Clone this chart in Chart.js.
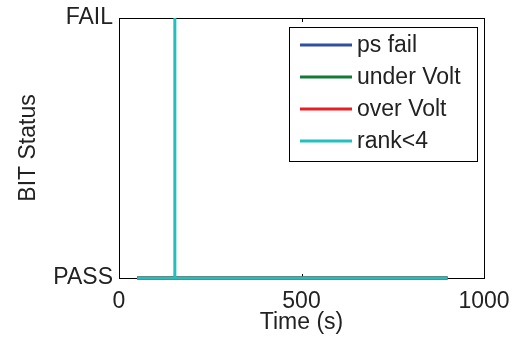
<!DOCTYPE html>
<html>
<head>
<meta charset="utf-8">
<script src="https://cdn.jsdelivr.net/npm/chart.js@4/dist/chart.umd.min.js"></script>
<style>
html,body{margin:0;padding:0;background:#fff;}
#wrap{width:514px;height:345px;position:relative;}
</style>
</head>
<body>
<div id="wrap"><canvas id="c" width="514" height="345"></canvas></div>
<script>
// ---- data ----
const seriesNames = ['ps fail', 'under Volt', 'over Volt', 'rank<4'];
const times      = [50, 153, 153, 153, 900];
const psFail     = [0, 0, 0, 0, 0];
const underVolt  = [0, 0, 0, 0, 0];
const overVolt   = [0, 0, 0, 0, 0];
const rankLt4    = [0, 0, 1, 0, 0];
const xTicks     = [0, 500, 1000];
const yTickLabels = ['PASS', 'FAIL'];
const colors = ['#2f4fa2', '#127a3b', '#ec1c24', '#22bfbf'];

const FONT = 'Arial, "Liberation Sans", Helvetica, sans-serif';
const FS = 23;

function pts(vals){ return times.map((t,i)=>({x:t,y:vals[i]})); }
const allVals = [psFail, underVolt, overVolt, rankLt4];

const boxPlugin = {
  id:'box',
  beforeDatasetsDraw(chart){
    const {ctx, chartArea:a, scales:{x,y}} = chart;
    ctx.save();
    ctx.strokeStyle='#000'; ctx.lineWidth=1;
    ctx.strokeRect(a.left+0.5, a.top+0.5, a.right-a.left, a.bottom-a.top);
    ctx.beginPath();
    const tl = 4;
    xTicks.forEach(v=>{
      const px = Math.round(x.getPixelForValue(v))+0.5;
      ctx.moveTo(px, a.bottom); ctx.lineTo(px, a.bottom-tl);
      ctx.moveTo(px, a.top); ctx.lineTo(px, a.top+tl);
    });
    [0,1].forEach(v=>{
      const py = Math.round(y.getPixelForValue(v))+0.5;
      ctx.moveTo(a.left, py); ctx.lineTo(a.left+tl, py);
      ctx.moveTo(a.right, py); ctx.lineTo(a.right-tl, py);
    });
    ctx.stroke();
    ctx.restore();
  },
  afterDraw(chart){
    const {ctx, chartArea:a} = chart;
    const bx = a.right-195, by = a.top+9, bw = 188, bh = 134;
    ctx.save();
    ctx.fillStyle='#fff';
    ctx.fillRect(bx, by, bw, bh);
    ctx.strokeStyle='#000'; ctx.lineWidth=1;
    ctx.strokeRect(bx+0.5, by+0.5, bw, bh);
    ctx.font = FS+'px '+FONT;
    ctx.textBaseline='middle';
    chart.data.datasets.forEach((ds,i)=>{
      const ry = by + 18 + i*32;
      ctx.strokeStyle = ds.borderColor; ctx.lineWidth=3;
      ctx.beginPath(); ctx.moveTo(bx+11, ry); ctx.lineTo(bx+63, ry); ctx.stroke();
      ctx.fillStyle='#222';
      ctx.fillText(ds.label, bx+68, ry+1);
    });
    ctx.restore();
  }
};

new Chart(document.getElementById('c'), {
  type:'line',
  data:{
    datasets: seriesNames.map((n,i)=>({
      label:n, data:pts(allVals[i]), borderColor:colors[i], backgroundColor:colors[i],
      borderWidth:3, pointRadius:0, tension:0, fill:false, clip:6,
      order: seriesNames.length - 1 - i
    }))
  },
  options:{
    responsive:false, animation:false,
    layout:{padding:{top:18, right:30, left:0, bottom:0}},
    plugins:{legend:{display:false}, tooltip:{enabled:false}},
    scales:{
      x:{
        type:'linear', min:0, max:1000,
        afterBuildTicks(s){ s.ticks = xTicks.map(v=>({value:v})); },
        grid:{display:false, drawTicks:false},
        border:{display:false},
        ticks:{color:'#222', font:{family:FONT, size:FS}, padding:10, maxRotation:0, callback:(v)=>String(v)},
        title:{display:true, text:'Time (s)', color:'#222', font:{family:FONT, size:FS}, padding:{top:0,bottom:9}},
        afterFit(s){ s.height = 67; s.paddingLeft = 0; s.paddingRight = 0; }
      },
      y:{
        type:'linear', min:0, max:1,
        afterBuildTicks(s){ s.ticks = [{value:0},{value:1}]; },
        grid:{display:false, drawTicks:false},
        border:{display:false},
        ticks:{color:'#222', font:{family:FONT, size:FS}, padding:6, callback:(v)=>yTickLabels[v]},
        title:{display:true, text:'BIT Status', color:'#222', font:{family:FONT, size:FS}, padding:{top:15,bottom:0}},
        afterFit(s){ s.width = 119; s.paddingTop = 0; s.paddingBottom = 0; }
      }
    }
  },
  plugins:[boxPlugin]
});
</script>
</body>
</html>
